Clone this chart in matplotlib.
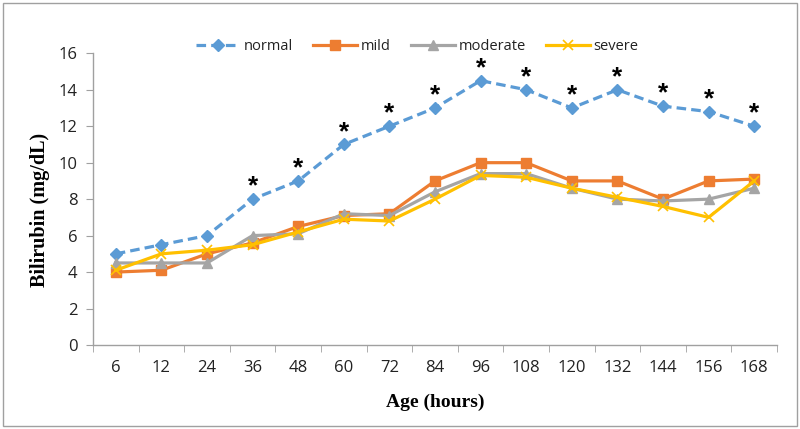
import matplotlib
matplotlib.use("Agg")
import matplotlib.pyplot as plt
from matplotlib.patches import Rectangle

ages = ["6", "12", "24", "36", "48", "60", "72", "84", "96", "108", "120", "132", "144", "156", "168"]
normal = [5.0, 5.5, 6.0, 8.0, 9.0, 11.0, 12.0, 13.0, 14.5, 14.0, 13.0, 14.0, 13.1, 12.8, 12.0]
mild = [4.0, 4.1, 5.0, 5.6, 6.5, 7.1, 7.2, 9.0, 10.0, 10.0, 9.0, 9.0, 8.0, 9.0, 9.1]
moderate = [4.5, 4.5, 4.5, 6.0, 6.1, 7.2, 7.1, 8.4, 9.4, 9.4, 8.6, 8.0, 7.9, 8.0, 8.6]
severe = [4.1, 5.0, 5.2, 5.5, 6.2, 6.9, 6.8, 8.0, 9.3, 9.2, 8.6, 8.1, 7.6, 7.0, 9.0]
significant = [False, False, False, True, True, True, True, True, True, True, True, True, True, True, True]

fig = plt.figure(figsize=(8, 4.29), dpi=100)
ax = fig.add_axes([0.11625, 0.1958, 0.855, 0.68])

x = list(range(len(ages)))
ax.plot(x, normal, color="#5B9BD5", lw=2.3, ls=(0, (3, 1.6)), marker="D", ms=6, label="normal")
ax.plot(x, mild, color="#ED7D31", lw=2.3, marker="s", ms=7.5, label="mild")
ax.plot(x, moderate, color="#A5A5A5", lw=2.3, marker="^", ms=7.5, label="moderate")
ax.plot(x, severe, color="#FFC000", lw=2.3, marker="x", ms=7, mew=1.2, label="severe")

for i, (v, s) in enumerate(zip(normal, significant)):
    if s:
        ax.annotate("*", (i, v), xytext=(0, 9), textcoords="offset points",
                    ha="center", va="center", fontsize=19, fontweight="bold",
                    color="black", family="Liberation Sans")

ax.set_xlim(-0.5, len(ages) - 0.5)
ax.set_ylim(0, 16)
ax.set_yticks(range(0, 17, 2))
ax.set_xticks(x)
ax.set_xticklabels(ages)
ax.set_xticks([i - 0.5 for i in range(len(ages) + 1)], minor=True)
ax.tick_params(axis="x", which="major", length=0, pad=11)
ax.tick_params(axis="x", which="minor", length=5, color="#A0A0A0", direction="out")
ax.tick_params(axis="y", length=5, color="#A0A0A0", direction="out", pad=6)
for lab in ax.get_xticklabels() + ax.get_yticklabels():
    lab.set_fontfamily("Open Sans")
    lab.set_fontsize(12)
    lab.set_color("#222222")

for sp in ["top", "right"]:
    ax.spines[sp].set_visible(False)
for sp in ["left", "bottom"]:
    ax.spines[sp].set_color("#A0A0A0")
    ax.spines[sp].set_linewidth(1)

ax.set_xlabel("Age (hours)", family="Liberation Serif", fontweight="bold", fontsize=14)
ax.set_ylabel("Bilirubin (mg/dL)", family="Liberation Serif", fontweight="bold", fontsize=14.5)
ax.xaxis.set_label_coords(0.5, -0.195)
ax.yaxis.set_label_coords(-0.0775, 0.462)
ax.xaxis.label.set_va("center")
ax.yaxis.label.set_va("center")

leg = ax.legend(loc="center", bbox_to_anchor=(0.474, 1.022), ncol=4, frameon=False,
                handlelength=3.0, columnspacing=1.4, handletextpad=0.25,
                prop={"family": "Open Sans", "size": 10.5})
for t in leg.get_texts():
    t.set_color("#222222")

fig.patches.append(Rectangle((0.004, 0.006), 0.992, 0.988, transform=fig.transFigure,
                             fill=False, edgecolor="#A0A0A0", lw=1))

fig.savefig("out.png", dpi=100)
